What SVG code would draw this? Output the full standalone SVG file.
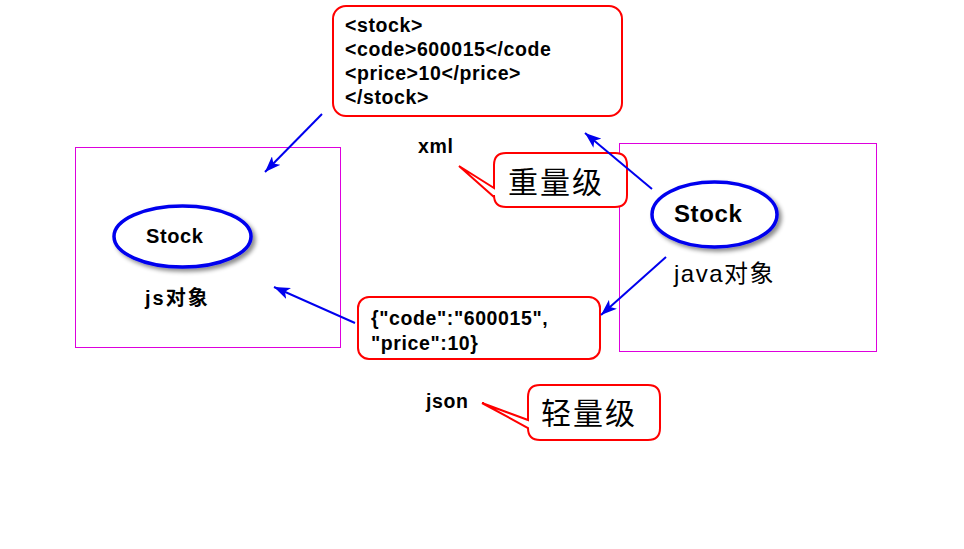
<svg xmlns="http://www.w3.org/2000/svg" width="964" height="549" viewBox="0 0 964 549">
<style>
.frame{fill:none;stroke:#dd00dd;stroke-width:1}
.callout{fill:#fff;stroke:#ff0000;stroke-width:2}
.oval{fill:#fff;stroke:#0000ee;stroke-width:3.5;filter:url(#sh)}
.conn{stroke:#0000ee;stroke-width:2;fill:none;marker-end:url(#ah)}
.b{font-family:"Liberation Sans",Arial,sans-serif;font-weight:bold;fill:#000}
.cjk{font-family:"Liberation Sans","Noto Sans CJK SC",sans-serif;fill:#000}
.code{font-size:19.5px;letter-spacing:0.6px}
.big{font-size:30px;letter-spacing:2px}
</style>
<defs>
<marker id="ah" markerUnits="userSpaceOnUse" markerWidth="18" markerHeight="12" refX="16" refY="6" orient="auto">
<path d="M0,0 L16,6 L0,12 L4,6 Z" fill="#0000ee"/>
</marker>
<filter id="sh" x="-20%" y="-30%" width="150%" height="170%">
<feDropShadow dx="3" dy="3" stdDeviation="2" flood-color="#000" flood-opacity="0.45"/>
</filter>
</defs>
<rect width="964" height="549" fill="#fff"/>

<g id="js-object">
<rect class="frame" x="75.5" y="147.5" width="265" height="200"/>
<ellipse class="oval" cx="182.5" cy="236.5" rx="68.5" ry="30.5"/>
<text class="b" x="146" y="243" font-size="20" letter-spacing="0.6">Stock</text>
<text class="b cjk" x="145" y="305" font-size="20" font-weight="bold" letter-spacing="2">js对象</text>
</g>

<g id="java-object">
<rect class="frame" x="619.5" y="143.5" width="257" height="208"/>
<ellipse class="oval" cx="714.5" cy="214.5" rx="62.5" ry="32.5"/>
<text class="b" x="674" y="222" font-size="24" letter-spacing="0.6">Stock</text>
<text class="cjk" x="674" y="282" font-size="24" letter-spacing="1.5">java对象</text>
</g>

<g id="xml-box">
<rect class="callout" x="333" y="6" width="289" height="110" rx="13"/>
<text class="b code"><tspan x="345" y="32">&lt;stock&gt;</tspan><tspan x="345" y="56">&lt;code&gt;600015&lt;/code</tspan><tspan x="345" y="80">&lt;price&gt;10&lt;/price&gt;</tspan><tspan x="345" y="104">&lt;/stock&gt;</tspan></text>
</g>

<g id="json-box">
<rect class="callout" x="358" y="297" width="242" height="62" rx="11"/>
<text class="b code"><tspan x="371" y="325">{"code":"600015",</tspan><tspan x="371" y="350">"price":10}</tspan></text>
</g>

<g id="xml-label">
<text class="b code" x="418" y="153">xml</text>
</g>

<g id="heavy-callout">
<path class="callout" d="M506,153 H615 Q627,153 627,165 V195 Q627,207 615,207 H506 Q494,207 494,195 V197 L459,166 L494,188 V165 Q494,153 506,153 Z"/>
<text class="cjk big" x="508" y="193">重量级</text>
</g>

<g id="json-label">
<text class="b code" x="426" y="408">json</text>
</g>

<g id="light-callout">
<path class="callout" d="M540,385 H648 Q660,385 660,397 V428 Q660,440 648,440 H540 Q528,440 528,428 V428 L482,403 L528,420 V397 Q528,385 540,385 Z"/>
<text class="cjk big" x="541" y="424">轻量级</text>
</g>

<g id="connectors">
<line class="conn" x1="322" y1="114" x2="265" y2="172"/>
<line class="conn" x1="652" y1="189" x2="585" y2="133"/>
<line class="conn" x1="666" y1="257" x2="601" y2="315"/>
<line class="conn" x1="355" y1="323" x2="274" y2="287"/>
</g>
</svg>
